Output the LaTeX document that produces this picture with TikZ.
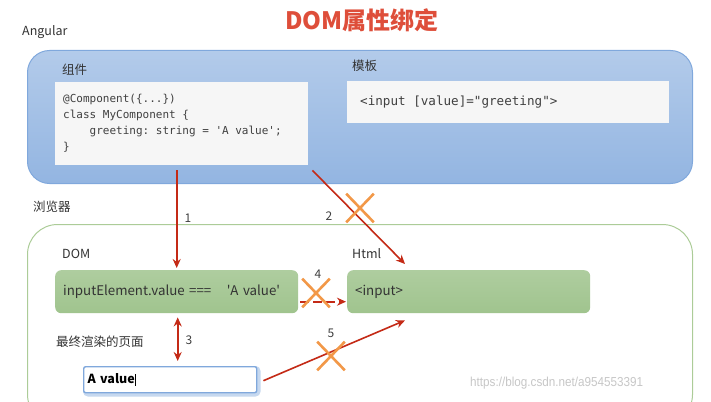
\documentclass[tikz,border=0pt]{standalone}
\usepackage{fontspec}
\setmainfont{Noto Sans CJK SC}
\newfontfamily\codefont{DejaVu Sans Mono}
\newfontfamily\wmfont{Liberation Sans}
\usetikzlibrary{shapes.misc,arrows.meta,calc}

\definecolor{titlered}{RGB}{222,78,58}
\definecolor{arrred}{RGB}{196,42,22}
\definecolor{xorange}{RGB}{242,152,72}
\definecolor{ngblue}{RGB}{128,168,220}
\definecolor{boxgreen}{RGB}{160,196,142}
\definecolor{brgreen}{RGB}{172,204,152}
\definecolor{codegray}{RGB}{246,246,246}

\newcommand\csp{\hspace{0.602em}}

\tikzset{
  lbl/.style={anchor=west,inner sep=0,text=black!80,font=\fontsize{12.5}{14}\selectfont},
  num/.style={inner sep=0,text=black!75,font=\fontsize{12}{14}\selectfont},
  codebox/.style={anchor=north west,fill=codegray,inner sep=0,text=black!75},
  greenbox/.style={anchor=north west,top color=boxgreen!85,bottom color=boxgreen,rounded corners=6,
    minimum width=243,minimum height=43,text width=227,align=left,text=black!80,
    font=\fontsize{13.3}{14}\selectfont},
  arr/.style={draw=arrred,line width=1.6,-{Stealth[length=9,width=8]}},
  xmark/.style={cross out,draw=xorange,line width=2.6,minimum width=25,minimum height=26,inner sep=0}
}

\begin{document}
\begin{tikzpicture}[x=1pt,y=-1pt]
  \useasboundingbox (0,0) rectangle (711,401);
  \clip (0,0) rectangle (711,401);

  \node[text=titlered,font=\fontsize{24}{28}\selectfont\bfseries](Title) at (362,20) {DOM属性绑定};
  \node[lbl](LAngular) at (22,32) {Angular};
  \node[anchor=north west,draw=ngblue,line width=1,rounded corners=22,top color=ngblue!60,
    bottom color=ngblue!85,minimum width=665,minimum height=133](Angular) at (27,50) {};
  \node[lbl](LComp) at (62,70) {组件};
  \node[lbl](LTmpl) at (352,66) {模板};
  \node[codebox,minimum width=253,minimum height=83,text width=237,align=left,
    font=\codefont\fontsize{11}{16}\selectfont](Comp) at (55,82) {
    @Component(\{...\})\\
    class\csp MyComponent\csp\{\\
    \hspace*{2.408em}greeting:\csp string\csp=\csp\textquotesingle A\csp value\textquotesingle;\\
    \}};
  \node[codebox,minimum width=322,minimum height=42,text width=296,align=left,
    font=\codefont\fontsize{12.6}{14}\selectfont](Tmpl) at (347,81) {<input\csp[value]="greeting">};

  \node[lbl](LBrowser) at (33,207) {浏览器};
  \node[anchor=north west,draw=brgreen,line width=1,rounded corners=30,fill=white,
    minimum width=665,minimum height=200](Browser) at (27,224) {};
  \node[lbl](LDom) at (62,254) {DOM};
  \node[lbl](LHtml) at (352,254) {Html};
  \node[greenbox](Dom) at (55,270) {inputElement.value ===\hspace{15.5pt}\textquotesingle A value\textquotesingle};
  \node[greenbox](Html) at (347,270) {<input>};
  \node[lbl](LPage) at (56,342) {最终渲染的页面};
  \node[anchor=north west,draw=ngblue!45,line width=4.5,rounded corners=3,minimum width=173,
    minimum height=26](PageGlow) at (83,366) {};
  \node[anchor=north west,draw=ngblue,line width=1.4,rounded corners=2,fill=white,minimum width=173,
    minimum height=26,text width=165,align=left,inner sep=3,
    font=\fontsize{12.5}{14}\selectfont\bfseries](Page) at (83,366) {A value\rule[-2pt]{0.7pt}{12pt}};

  \draw[arr] ($(Comp.south -| Dom.north)+(0,5)$) -- ($(Dom.north)+(0,-2)$);
  \draw[arr] ($(Comp.south east)+(4,5)$) -- ($(Html.north west)+(58,-6)$);
  \draw[arr,{Stealth[length=9,width=8]}-{Stealth[length=9,width=8]}]
    ($(Dom.south)+(1,4)$) -- ($(Dom.south |- Page.north)+(1,-5)$);
  \draw[arr,dash pattern=on 9 off 4] ($(Dom.east)+(2,10)$) -- ($(Html.west)+(-1,10)$);
  \draw[arr] ($(Page.east)+(6,1)$) -- ($(Html.south west)+(58,7)$);

  \node[num](N1) at (188,218) {1};
  \node[num](N2) at (329,216) {2};
  \node[num](N3) at (189,340) {3};
  \node[num](N4) at (318,274) {4};
  \node[num](N5) at (331,333) {5};

  \node[xmark](X2) at (360,208) {};
  \node[xmark](X4) at (316,293) {};
  \node[xmark](X5) at (331,356) {};

  \node[anchor=west,inner sep=0,text=black!22,font=\fontsize{13}{14}\wmfont](Mark) at (470,383)
    {\scalebox{0.9}[1]{https://blog.csdn.net/a954553391}};
\end{tikzpicture}
\end{document}
